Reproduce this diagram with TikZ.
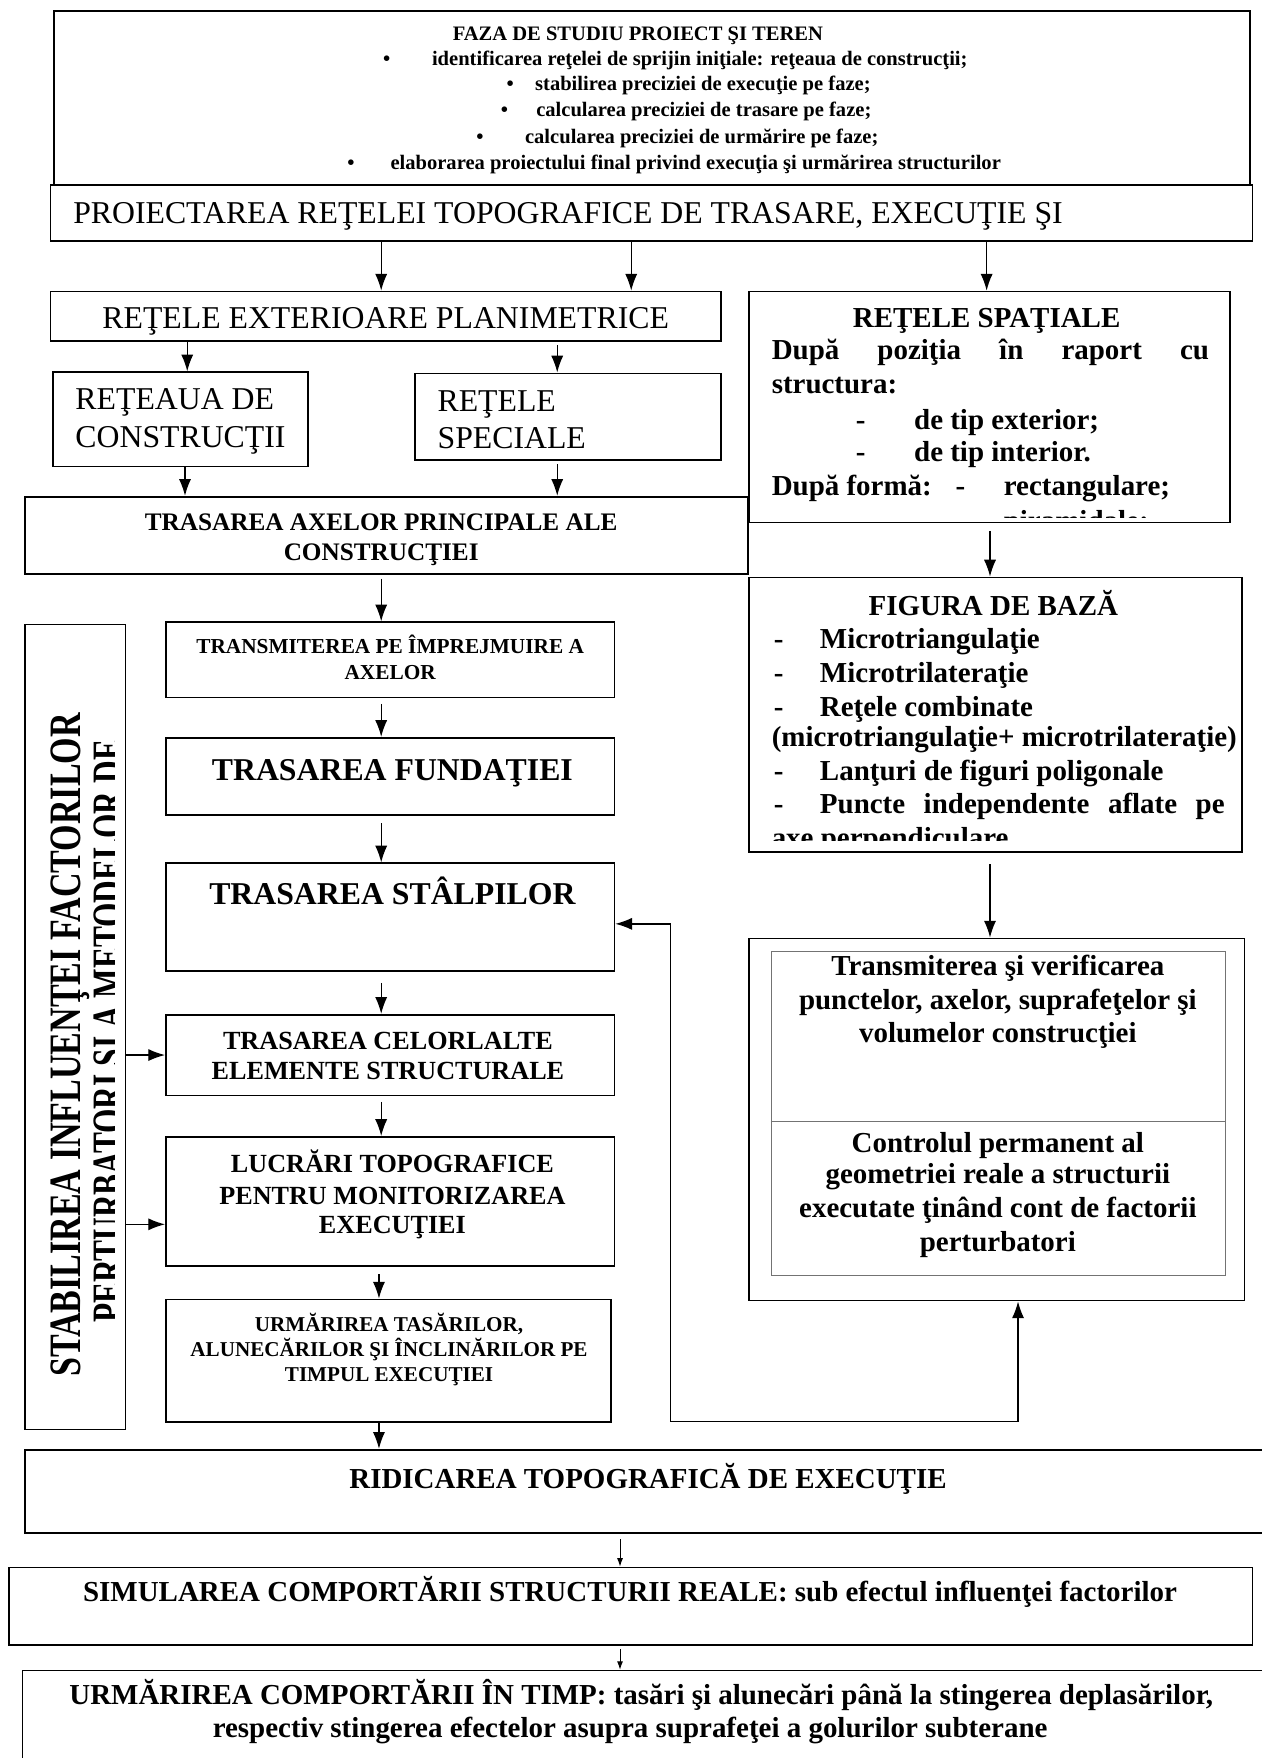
\documentclass[tikz,border=0pt]{standalone}
\usepackage{fontspec}
\setmainfont{Liberation Serif}
\usepackage{graphicx}
\usetikzlibrary{arrows.meta,fit}
\newdimen\upx \upx=0.6pt
\newcommand\sz[1]{\fontsize{#1}{#1}\selectfont}
\newcommand\spread[2]{\makebox[#1\upx][s]{#2}}
\newcommand\squeeze[2]{\resizebox{#1\upx}{\height}{#2}}

\tikzset{
  box/.style={draw, line width=0.9pt, fill=white, inner sep=0pt},
  thinbox/.style={draw=black!55, line width=0.5pt, inner sep=0pt},
  tx/.style={inner sep=0pt, anchor=base},
  txl/.style={inner sep=0pt, anchor=base west},
  arr/.style={line width=0.7pt, -{Latex[length=9pt,width=6.5pt]}},
  sarr/.style={line width=0.5pt, -{Latex[length=4.5pt,width=3.2pt]}},
  topf/.style={font=\bfseries\sz{11pt}},
  bigr/.style={font=\sz{17pt}},
  rbf/.style={font=\bfseries\sz{15.5pt}},
}

\begin{document}
\begin{tikzpicture}[x=0.6pt,y=-0.6pt]
\useasboundingbox (0,0) rectangle (1125,1568);
\fill[white] (0,0) rectangle (1125,1568);

% ---------- study phase ----------
\node[box, fit={(48,10)(1115,180)}] (faza) {};
\node[tx, topf] (fazaT) at (569,36) {FAZA DE STUDIU PROIECT ŞI TEREN};
\node[tx, topf] (bu1) at (345,58) {•};
\node[txl, topf] (bl1) at (385,58) {identificarea reţelei de sprijin iniţiale: reţeaua de construcţii;};
\node[tx, topf] (bu2) at (455,81) {•};
\node[txl, topf] (bl2) at (477,81) {stabilirea preciziei de execuţie pe faze;};
\node[tx, topf] (bu3) at (450,104) {•};
\node[txl, topf] (bl3) at (478,104) {calcularea preciziei de trasare pe faze;};
\node[tx, topf] (bu4) at (428,128) {•};
\node[txl, topf] (bl4) at (468,128) {calcularea preciziei de urmărire pe faze;};
\node[tx, topf] (bu5) at (313,151) {•};
\node[txl, topf] (bl5) at (348,151) {elaborarea proiectului final privind execuţia şi urmărirea structurilor};

% ---------- design of the network ----------
\node[box, fit={(45,165)(1117,215)}] (proj) {};
\node[txl, bigr] (projT) at (65,199) {PROIECTAREA REŢELEI TOPOGRAFICE DE TRASARE, EXECUŢIE ŞI};

% ---------- planimetric networks ----------
\node[box, fit={(45,260)(643,304)}] (extp) {};
\node[tx, bigr] (extpT) at (344,293) {REŢELE EXTERIOARE PLANIMETRICE};

\node[box, fit={(47,332)(275,416)}] (rcon) {};
\node[txl, bigr] (rconA) at (67,365) {REŢEAUA DE};
\node[txl, bigr] (rconB) at (67,399) {CONSTRUCŢII};

\node[box, fit={(370,333)(643,410)}] (rspec) {};
\node[txl, bigr] (rspecA) at (390,367) {REŢELE};
\node[txl, bigr] (rspecB) at (390,400) {SPECIALE};

\node[box, fit={(22,443)(667,512)}] (axe) {};
\node[tx, font=\bfseries\sz{13.5pt}] (axeA) at (340,473) {TRASAREA AXELOR PRINCIPALE ALE};
\node[tx, font=\bfseries\sz{13.5pt}] (axeB) at (340,500) {CONSTRUCŢIEI};

% ---------- left column ----------
\node[box, fit={(148,555)(548,622)}] (transm) {};
\node[tx, font=\bfseries\sz{11.4pt}] (transmA) at (348,583) {TRANSMITEREA PE ÎMPREJMUIRE A};
\node[tx, font=\bfseries\sz{11.4pt}] (transmB) at (348,606) {AXELOR};

\node[box, fit={(148,658)(548,727)}] (fund) {};
\node[tx, font=\bfseries\sz{17pt}] (fundT) at (350,696) {TRASAREA FUNDAŢIEI};

\node[box, fit={(148,770)(548,866)}] (stalp) {};
\node[tx, font=\bfseries\sz{17pt}] (stalpT) at (350,807) {TRASAREA STÂLPILOR};

\node[box, fit={(148,905)(548,977)}] (celor) {};
\node[tx, font=\bfseries\sz{14pt}] (celorA) at (346,936) {TRASAREA CELORLALTE};
\node[tx, font=\bfseries\sz{14pt}] (celorB) at (346,963) {ELEMENTE STRUCTURALE};

\node[box, fit={(148,1014)(548,1129)}] (lucr) {};
\node[tx, font=\bfseries\sz{14pt}] (lucrA) at (350,1046) {LUCRĂRI TOPOGRAFICE};
\node[tx, font=\bfseries\sz{14pt}] (lucrB) at (350,1074) {PENTRU MONITORIZAREA};
\node[tx, font=\bfseries\sz{14pt}] (lucrC) at (350,1100) {EXECUŢIEI};

\node[box, fit={(148,1159)(545,1268)}] (urmt) {};
\node[tx, font=\bfseries\sz{11.3pt}] (urmtA) at (347,1188) {URMĂRIREA TASĂRILOR,};
\node[tx, font=\bfseries\sz{11.3pt}] (urmtB) at (347,1210) {ALUNECĂRILOR ŞI ÎNCLINĂRILOR PE};
\node[tx, font=\bfseries\sz{11.3pt}] (urmtC) at (347,1232) {TIMPUL EXECUŢIEI};

% vertical side box, its second line cut off by the text frame
\node[box, fit={(22,557)(112,1275)}] (lbox) {};
\begin{scope}
  \clip (22,557) rectangle (102,1275);
  \node[tx, rotate=90, font=\bfseries\sz{24pt}] (lboxA) at (72,932)
    {\squeeze{592}{STABILIREA INFLUENŢEI FACTORILOR}};
  \node[tx, rotate=90, font=\bfseries\sz{24pt}] (lboxB) at (110,920)
    {\squeeze{520}{PERTURBATORI ŞI A METODELOR DE}};
\end{scope}

% ---------- spatial networks ----------
\node[box, fit={(668,260)(1097,466)}] (spat) {};
\begin{scope}
  \clip (668,260) rectangle (1097,462);
  \node[tx, rbf] (spatT) at (880,292) {REŢELE SPAŢIALE};
  \node[txl, rbf] (spat1) at (688,321) {\spread{390}{După\hfill poziţia\hfill în\hfill raport\hfill cu}};
  \node[txl, rbf] (spat2) at (688,351) {structura:};
  \node[txl, rbf] (spat3d) at (763,383) {-};
  \node[txl, rbf] (spat3) at (815,383) {de tip exterior;};
  \node[txl, rbf] (spat4d) at (763,412) {-};
  \node[txl, rbf] (spat4) at (815,412) {de tip interior.};
  \node[txl, rbf] (spat5) at (688,442) {După formă:};
  \node[txl, rbf] (spat5d) at (852,442) {-};
  \node[txl, rbf] (spat5t) at (895,442) {rectangulare;};
  \node[txl, rbf] (spat6d) at (852,473) {-};
  \node[txl, rbf] (spat6t) at (895,473) {piramidale;};
\end{scope}

\node[box, fit={(668,515)(1108,760)}] (fig) {};
\begin{scope}
  \clip (668,515) rectangle (1108,750);
  \node[tx, rbf] (figT) at (886,549) {FIGURA DE BAZĂ};
  \node[txl, rbf] (fig1d) at (690,578) {-};
  \node[txl, rbf] (fig1) at (731,578) {Microtriangulaţie};
  \node[txl, rbf] (fig2d) at (690,609) {-};
  \node[txl, rbf] (fig2) at (731,609) {Microtrilateraţie};
  \node[txl, rbf] (fig3d) at (690,639) {-};
  \node[txl, rbf] (fig3) at (731,639) {Reţele combinate};
  \node[txl, rbf] (fig4) at (688,666) {(microtriangulaţie+ microtrilateraţie)};
  \node[txl, rbf] (fig5d) at (690,696) {-};
  \node[txl, rbf] (fig5) at (731,696) {Lanţuri de figuri poligonale};
  \node[txl, rbf] (fig6d) at (690,726) {-};
  \node[txl, rbf] (fig6) at (731,726) {\spread{361}{Puncte\hfill independente\hfill aflate\hfill pe}};
  \node[txl, rbf] (fig7) at (688,756) {axe perpendiculare};
\end{scope}

\node[box, fit={(668,837)(1110,1160)}] (ctl) {};
\node[thinbox, fit={(688,849)(1093,1138)}] (ctlin) {};
\draw[draw=black!55, line width=0.5pt] (ctlin.west |- 0,1000) -- (ctlin.east |- 0,1000);
\node[tx, rbf] (ctlA) at (890,870) {Transmiterea şi verificarea};
\node[tx, rbf] (ctlB) at (890,900) {punctelor, axelor, suprafeţelor şi};
\node[tx, rbf] (ctlC) at (890,930) {volumelor construcţiei};
\node[tx, rbf] (ctlD) at (890,1028) {Controlul permanent al};
\node[tx, rbf] (ctlE) at (890,1056) {geometriei reale a structurii};
\node[tx, rbf] (ctlF) at (890,1086) {executate ţinând cont de factorii};
\node[tx, rbf] (ctlG) at (890,1116) {perturbatori};

% ---------- final stages ----------
\node[box, fit={(22,1293)(1140,1367)}] (ridic) {};
\node[tx, rbf] (ridicT) at (578,1328) {RIDICAREA TOPOGRAFICĂ DE EXECUŢIE};

\node[box, fit={(8,1398)(1117,1467)}] (simul) {};
\node[tx, rbf] (simulT) at (562,1428) {SIMULAREA COMPORTĂRII STRUCTURII REALE: sub efectul influenţei factorilor};

\node[box, fit={(20,1490)(1140,1590)}] (urmc) {};
\node[tx, rbf] (urmcA) at (572,1520) {URMĂRIREA COMPORTĂRII ÎN TIMP: tasări şi alunecări până la stingerea deplasărilor,};
\node[tx, rbf] (urmcB) at (562,1550) {respectiv stingerea efectelor asupra suprafeţei a golurilor subterane};

% ---------- connectors ----------
\draw[arr] (proj.south -| 340,0) -- (extp.north -| 340,0);
\draw[arr] (proj.south -| 563,0) -- (extp.north -| 563,0);
\draw[arr] (proj.south -| 880,0) -- (spat.north -| 880,0);
\draw[arr] (extp.south -| 167,0) -- (rcon.north -| 167,0);
\draw[arr, shorten <=2pt] (extp.south -| 497,0) -- (rspec.north -| 497,0);
\draw[arr] (rcon.south -| 165,0) -- (axe.north -| 165,0);
\draw[arr, shorten <=2pt] (rspec.south -| 497,0) -- (axe.north -| 497,0);
\draw[arr, shorten <=2pt] (axe.south -| 340,0) -- (transm.north -| 340,0);
\draw[arr, shorten <=3pt] (transm.south -| 340,0) -- (fund.north -| 340,0);
\draw[arr, shorten <=4pt] (fund.south -| 340,0) -- (stalp.north -| 340,0);
\draw[arr, shorten <=6pt] (stalp.south -| 340,0) -- (celor.north -| 340,0);
\draw[arr, shorten <=3pt] (celor.south -| 340,0) -- (lucr.north -| 340,0);
\draw[arr, shorten <=4pt] (lucr.south -| 338,0) -- (urmt.north -| 338,0);
\draw[arr] (urmt.south -| 338,0) -- (ridic.north -| 338,0);
\draw[sarr, shorten <=3pt] (ridic.south -| 553,0) -- (simul.north -| 553,0);
\draw[sarr, shorten <=2pt] (simul.south -| 553,0) -- (urmc.north -| 553,0);
\draw[arr, shorten <=4pt] (spat.south -| 883,0) -- (fig.north -| 883,0);
\draw[arr, shorten <=6pt] (fig.south -| 883,0) -- (ctl.north -| 883,0);
\draw[arr] (lbox.east |- celor.west) -- (celor.west);
\draw[arr] (lbox.east |- 0,1092) -- (lucr.west |- 0,1092);
\coordinate (fb) at (598,1268);
\draw[arr] (fb) |- (stalp.east |- 0,824);
\draw[arr] (fb) -| (ctl.south -| 908,0);
\end{tikzpicture}
\end{document}
